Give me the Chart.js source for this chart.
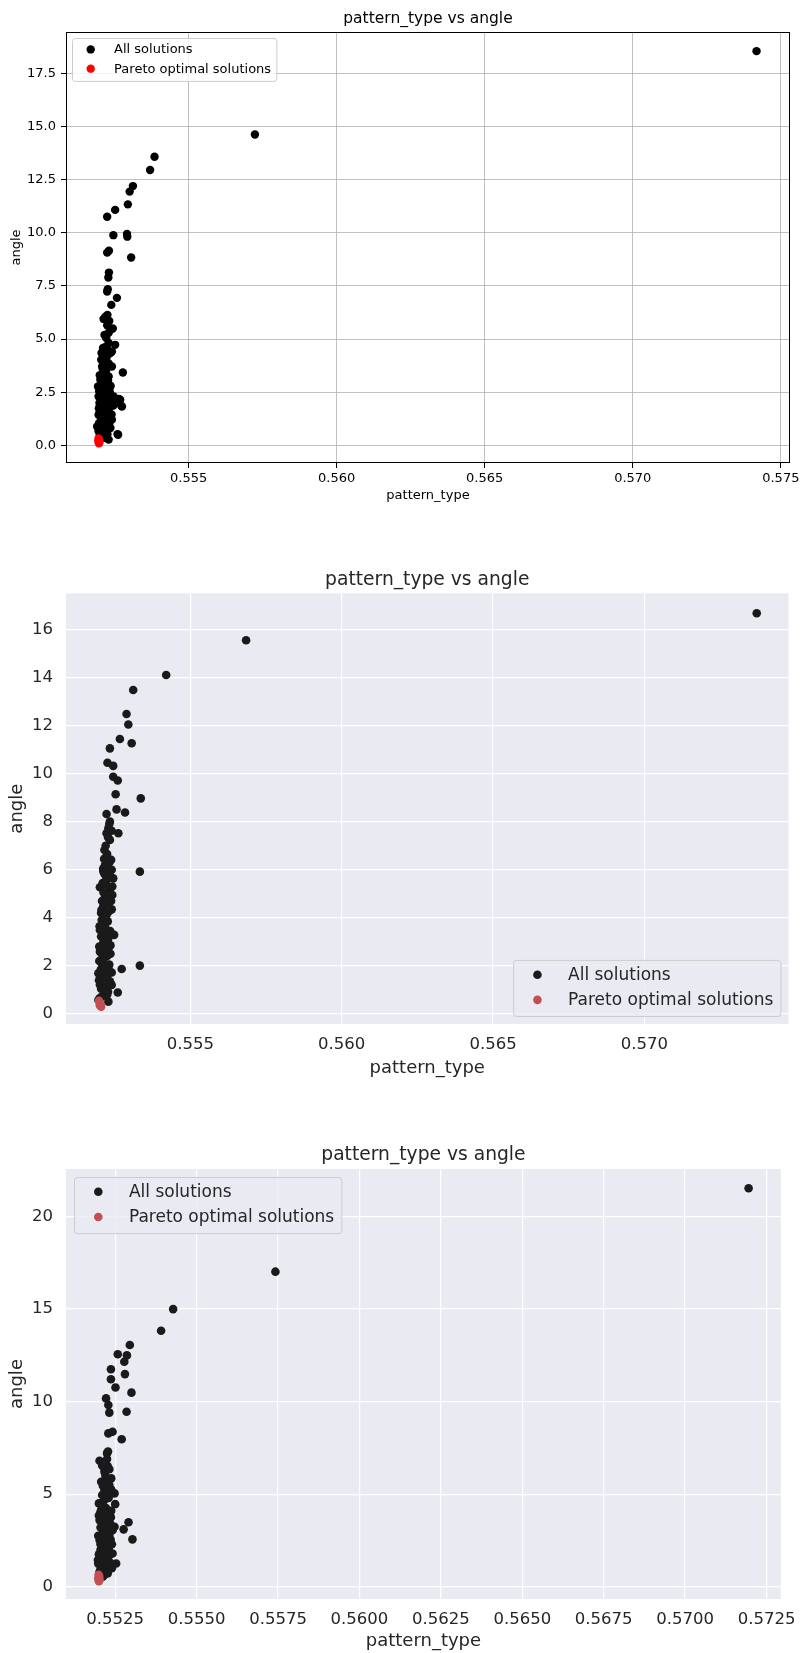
<!DOCTYPE html>
<html><head><meta charset="utf-8">
<script src="https://cdn.jsdelivr.net/npm/chart.js@4.4.1/dist/chart.umd.min.js"></script>
<style>
html,body{margin:0;padding:0;background:#fff;}
#wrap{position:relative;width:807px;height:1653px;overflow:hidden;}
canvas{position:absolute;left:0;}
</style></head><body>
<div id="wrap">
<canvas id="c1" width="807" height="520" style="top:0px;width:807px;height:520px"></canvas>
<canvas id="c2" width="807" height="580" style="top:520px;width:807px;height:580px"></canvas>
<canvas id="c3" width="807" height="553" style="top:1100px;width:807px;height:553px"></canvas>
</div>
<script>
// ---------- DATA ----------
const chartTitle = 'pattern_type vs angle';
const xAxisLabel = 'pattern_type';
const yAxisLabel = 'angle';
const seriesNames = ['All solutions', 'Pareto optimal solutions'];

const panel1All = [
[0.57418,18.55],[0.55724,14.63],[0.55385,13.58],[0.55370,12.96],[0.55312,12.20],[0.55301,11.94],[0.55295,11.34],[0.55252,11.08],[0.55225,10.76],[0.55246,9.89],[0.55292,9.95],[0.55293,9.82],[0.55306,8.84],[0.55225,9.07],[0.55231,9.16],[0.55231,8.13],[0.55229,7.90],[0.55227,7.35],[0.55225,7.24],[0.55258,6.94],[0.55239,6.61],[0.55226,6.14],[0.55213,5.95],[0.55219,6.05],[0.55244,5.50],[0.55236,5.44],[0.55216,5.19],[0.55252,4.73],[0.55241,4.42],[0.55211,4.58],[0.55224,4.50],[0.55211,4.18],[0.55224,3.71],[0.55213,3.40],[0.55278,3.43],[0.55208,3.09],[0.55236,2.81],[0.55202,2.46],[0.55265,2.18],[0.55272,1.87],[0.55246,1.87],[0.55202,1.87],[0.55196,1.44],[0.55236,0.82],[0.55260,0.53],[0.55219,0.35],
[0.55224,4.65],[0.55213,4.50],[0.55219,4.18],[0.55236,4.34],[0.55208,3.71],[0.55219,3.40],[0.55202,3.09],[0.55219,2.93],[0.55236,2.77],[0.55208,2.62],[0.55196,2.30],[0.55224,2.23],[0.55269,2.15],[0.55275,1.83],[0.55253,1.99],[0.55208,1.83],[0.55230,1.52],[0.55202,1.37],[0.55241,1.21],[0.55219,0.97],[0.55191,0.89],[0.55196,0.66],[0.55262,0.50],[0.55213,0.42],[0.55230,0.27],[0.55199,1.99],[0.55194,2.77],[0.55205,4.03],[0.55241,3.71],[0.55230,3.24],[0.55247,2.30],[0.55213,1.68],[0.55224,0.66],[0.55215,1.10],[0.55205,0.55],[0.55200,1.60],[0.55210,2.10],[0.55222,1.25],[0.55208,0.75],
[0.55200,0.45],[0.55212,0.58],[0.55226,0.52],[0.55204,0.80],[0.55218,0.85],[0.55232,1.00],[0.55198,1.05],[0.55210,1.20],[0.55226,1.38],[0.55240,1.45],[0.55205,1.52],[0.55218,1.60],[0.55232,1.75],[0.55197,1.75],[0.55215,1.92],[0.55228,2.00],[0.55242,2.05],[0.55205,2.22],[0.55220,2.40],[0.55234,2.50],[0.55198,2.55],[0.55212,2.75],[0.55226,2.68],[0.55206,2.90],[0.55228,3.05],[0.55214,3.20],[0.55200,3.30],[0.55222,3.55],[0.55210,3.60],[0.55230,3.85],[0.55214,3.90],[0.55222,4.10],[0.55206,4.35],[0.55230,4.30],[0.55218,4.62],[0.55230,4.82],[0.55222,5.05],[0.55230,5.30],[0.55225,5.65],[0.55232,5.85]
];
const panel1Pareto = [[0.55196,0.33],[0.55198,0.26],[0.55195,0.20],[0.55199,0.14],[0.55197,0.10]];

const panel2All = [
[0.57371,16.67],[0.55684,15.55],[0.55420,14.10],[0.55311,13.48],[0.55289,12.48],[0.55295,12.04],[0.55267,11.44],[0.55306,11.26],[0.55234,11.05],[0.55226,10.45],[0.55245,10.32],[0.55245,9.87],[0.55260,9.71],[0.55253,9.14],[0.55336,8.97],[0.55256,8.51],[0.55284,8.38],[0.55223,8.32],[0.55234,8.00],[0.55229,7.72],[0.55262,7.52],[0.55223,7.52],[0.55234,7.24],[0.55216,6.82],[0.55223,6.55],[0.55238,6.41],[0.55218,6.20],[0.55229,5.99],[0.55333,5.92],[0.55245,5.64],[0.55223,5.57],[0.55201,5.27],[0.55234,5.16],[0.55218,4.88],[0.55229,4.60],[0.55212,4.47],[0.55223,4.12],[0.55207,3.91],[0.55218,3.63],[0.55201,3.49],[0.55248,3.29],[0.55229,3.22],[0.55212,2.94],[0.55229,2.73],[0.55201,2.59],[0.55223,2.39],[0.55333,2.01],[0.55273,1.87],[0.55207,2.11],[0.55229,1.90],[0.55196,1.69],[0.55218,1.55],[0.55234,1.36],[0.55201,1.21],[0.55260,0.89],[0.55223,1.00],[0.55207,0.72],[0.55229,0.51],[0.55196,0.58],
[0.55212,6.05],[0.55240,4.35],[0.55215,3.05],[0.55236,2.50],[0.55210,1.80],[0.55225,0.80],[0.55240,1.20],[0.55215,5.85],[0.55242,4.95],[0.55205,4.20],
[0.55200,0.65],[0.55214,0.78],[0.55228,0.92],[0.55205,1.05],[0.55219,1.15],[0.55236,1.28],[0.55198,1.40],[0.55212,1.48],[0.55226,1.62],[0.55240,1.72],[0.55204,1.85],[0.55218,1.98],[0.55232,2.05],[0.55199,2.20],[0.55213,2.30],[0.55228,2.45],[0.55206,2.52],[0.55220,2.65],[0.55236,2.85],[0.55199,2.80],[0.55214,3.00],[0.55228,3.10],[0.55205,3.22],[0.55219,3.35],[0.55235,3.45],[0.55200,3.65],[0.55212,3.75],[0.55227,3.85],[0.55218,4.00],[0.55206,4.32],[0.55230,4.25],[0.55215,4.55],[0.55238,4.70],[0.55208,4.70],[0.55222,4.82],[0.55213,5.05],[0.55228,5.30],[0.55210,5.45],[0.55234,5.78],[0.55220,5.75],[0.55212,5.95],[0.55225,6.15],[0.55232,6.30],[0.55215,6.45],[0.55225,6.65],[0.55220,7.00],[0.55228,7.35],[0.55240,7.62],[0.55232,7.90],[0.55240,6.00],[0.55242,5.30]
];
const panel2Pareto = [[0.55198,0.55],[0.55200,0.45],[0.55203,0.38],[0.55205,0.30],[0.55201,0.35]];

const panel3All = [
[0.57195,21.51],[0.55742,17.01],[0.55428,14.99],[0.55391,13.82],[0.55295,13.05],[0.55258,12.55],[0.55286,12.49],[0.55278,12.15],[0.55237,11.74],[0.55237,11.20],[0.55280,11.48],[0.55251,10.76],[0.55300,10.48],[0.55222,10.17],[0.55229,9.81],[0.55232,9.40],[0.55285,9.45],[0.55229,8.28],[0.55242,8.37],[0.55270,7.96],[0.55225,7.20],[0.55202,6.80],[0.55227,6.52],[0.55217,6.21],[0.55238,5.85],[0.55207,5.67],[0.55232,5.49],[0.55217,5.22],[0.55248,5.04],[0.55222,4.77],[0.55250,4.46],[0.55207,4.14],[0.55227,3.96],[0.55202,3.60],[0.55222,3.51],[0.55291,3.48],[0.55248,3.24],[0.55276,3.10],[0.55212,3.06],[0.55232,2.79],[0.55303,2.56],[0.55202,2.52],[0.55222,2.16],[0.55207,1.80],[0.55232,1.71],[0.55197,1.44],[0.55253,1.26],[0.55217,1.08],[0.55202,0.81],[0.55227,0.72],[0.55212,0.54],
[0.55228,7.30],[0.55212,4.40],[0.55237,3.75],[0.55215,2.95],[0.55240,2.30],[0.55205,2.00],[0.55225,1.40],[0.55240,1.00],[0.55210,6.55],[0.55225,4.95],
[0.55200,0.45],[0.55215,0.62],[0.55228,0.85],[0.55205,0.95],[0.55220,1.20],[0.55235,1.30],[0.55198,1.25],[0.55210,1.55],[0.55228,1.60],[0.55242,1.80],[0.55200,1.75],[0.55215,1.95],[0.55230,2.05],[0.55205,2.30],[0.55220,2.45],[0.55236,2.55],[0.55198,2.75],[0.55212,2.85],[0.55228,2.95],[0.55242,3.05],[0.55205,3.20],[0.55220,3.30],[0.55235,3.40],[0.55200,3.85],[0.55214,3.75],[0.55230,3.65],[0.55205,4.05],[0.55222,4.25],[0.55238,4.10],[0.55200,4.50],[0.55215,4.65],[0.55230,4.80],[0.55210,4.95],[0.55222,5.15],[0.55238,5.25],[0.55212,5.45],[0.55228,5.70],[0.55220,6.00],[0.55232,6.35],[0.55215,6.45],[0.55225,6.90]
];
const panel3Pareto = [[0.55199,0.65],[0.55201,0.55],[0.55198,0.45],[0.55202,0.38],[0.55200,0.30]];

const panel1XTicks = [0.555, 0.560, 0.565, 0.570, 0.575];
const panel1XTickLabels = ['0.555', '0.560', '0.565', '0.570', '0.575'];
const panel1YTicks = [0, 2.5, 5, 7.5, 10, 12.5, 15, 17.5];
const panel1YTickLabels = ['0.0', '2.5', '5.0', '7.5', '10.0', '12.5', '15.0', '17.5'];

const panel2XTicks = [0.555, 0.560, 0.565, 0.570];
const panel2XTickLabels = ['0.555', '0.560', '0.565', '0.570'];
const panel2YTicks = [0, 2, 4, 6, 8, 10, 12, 14, 16];
const panel2YTickLabels = ['0', '2', '4', '6', '8', '10', '12', '14', '16'];

const panel3XTicks = [0.5525, 0.5550, 0.5575, 0.5600, 0.5625, 0.5650, 0.5675, 0.5700, 0.5725];
const panel3XTickLabels = ['0.5525', '0.5550', '0.5575', '0.5600', '0.5625', '0.5650', '0.5675', '0.5700', '0.5725'];
const panel3YTicks = [0, 5, 10, 15, 20];
const panel3YTickLabels = ['0', '5', '10', '15', '20'];

// ---------- RENDERING ----------
const FONT = '"DejaVu Sans", "Liberation Sans", sans-serif';

function toPoints(arr) { return arr.map(p => ({ x: p[0], y: p[1] })); }

function roundRectPath(ctx, x, y, w, h, r) {
  ctx.beginPath();
  ctx.moveTo(x + r, y);
  ctx.lineTo(x + w - r, y); ctx.arcTo(x + w, y, x + w, y + r, r);
  ctx.lineTo(x + w, y + h - r); ctx.arcTo(x + w, y + h, x + w - r, y + h, r);
  ctx.lineTo(x + r, y + h); ctx.arcTo(x, y + h, x, y + h - r, r);
  ctx.lineTo(x, y + r); ctx.arcTo(x, y, x + r, y, r);
  ctx.closePath();
}

const panelDecor = {
  id: 'panelDecor',
  beforeDraw(chart, args, o) {
    if (!o.bg) return;
    const a = chart.chartArea, ctx = chart.ctx;
    ctx.save();
    ctx.fillStyle = o.bg;
    ctx.fillRect(a.left, a.top, a.right - a.left, a.bottom - a.top);
    ctx.restore();
  },
  afterDraw(chart, args, o) {
    const a = chart.chartArea, ctx = chart.ctx;
    ctx.save();
    if (o.frame) {
      ctx.strokeStyle = o.frame; ctx.lineWidth = 1;
      ctx.strokeRect(Math.round(a.left) + 0.5, Math.round(a.top) + 0.5,
                     Math.round(a.right - a.left) - 1, Math.round(a.bottom - a.top) - 1);
    }
    const L = o.legend;
    if (L) {
      const f = L.fontSize;
      ctx.font = f + 'px ' + FONT;
      const ds = chart.data.datasets;
      let tw = 0;
      ds.forEach(d => { tw = Math.max(tw, ctx.measureText(d.label).width); });
      const w = 3.2 * f + tw + 0.45 * f;
      const h = 3.3 * f;
      let x0, y0;
      if (L.corner === 'upper left') { x0 = a.left + L.inset; y0 = a.top + L.inset; }
      else { x0 = a.right - L.inset - w; y0 = a.bottom - L.inset - h; }
      roundRectPath(ctx, x0, y0, w, h, 3);
      ctx.fillStyle = L.face; ctx.fill();
      ctx.strokeStyle = L.edge; ctx.lineWidth = 1; ctx.stroke();
      ds.forEach((d, i) => {
        const cy = y0 + 0.84 * f + i * 1.48 * f;
        ctx.beginPath();
        ctx.arc(x0 + 1.4 * f, cy, L.markerR, 0, Math.PI * 2);
        ctx.fillStyle = d.backgroundColor; ctx.fill();
        ctx.fillStyle = L.textColor;
        ctx.textBaseline = 'middle'; ctx.textAlign = 'left';
        ctx.fillText(d.label, x0 + 3.2 * f, cy + 0.5);
      });
    }
    ctx.restore();
  }
};

function buildChart(id, s) {
  return new Chart(document.getElementById(id), {
    type: 'scatter',
    data: {
      datasets: [
        { label: seriesNames[0], data: toPoints(s.all), backgroundColor: s.allColor, borderWidth: 0,
          pointRadius: s.r, pointHoverRadius: s.r, order: 2 },
        { label: seriesNames[1], data: toPoints(s.pareto), backgroundColor: s.paretoColor, borderWidth: 0,
          pointRadius: s.r, pointHoverRadius: s.r, order: 1 }
      ]
    },
    options: {
      responsive: false, animation: false, devicePixelRatio: 1,
      layout: { autoPadding: false, padding: { left: 0, top: 0, right: s.padRight, bottom: 0 } },
      events: [],
      plugins: {
        legend: { display: false },
        tooltip: { enabled: false },
        title: {
          display: true, text: chartTitle, fullSize: false, color: s.textColor,
          font: { family: FONT, size: s.titleSize, weight: 'normal', lineHeight: 1.2 },
          padding: { top: s.titlePadTop, bottom: s.titlePadBottom }
        },
        panelDecor: { bg: s.bg, frame: s.frame, legend: s.legend }
      },
      scales: {
        x: {
          type: 'linear', position: 'bottom', bounds: 'data', min: s.xMin, max: s.xMax,
          afterBuildTicks: sc => { sc.ticks = s.xTicks.map(v => ({ value: v })); },
          afterFit: sc => { sc.height = s.xAxisHeight; },
          ticks: { autoSkip: false, maxRotation: 0, minRotation: 0, padding: s.xTickPad, color: s.textColor,
                   font: { family: FONT, size: s.tickSize, lineHeight: 1.2 },
                   callback: (v, i) => s.xTickLabels[i] },
          grid: { color: s.gridColor, lineWidth: s.gridWidth, drawTicks: s.drawTicks, tickLength: s.tickLen,
                  tickColor: '#000000', tickWidth: 1 },
          border: { display: false },
          title: { display: true, text: xAxisLabel, color: s.textColor,
                   font: { family: FONT, size: s.labelSize, lineHeight: 1.2 },
                   padding: { top: 0, bottom: s.xTitlePadBottom } }
        },
        y: {
          type: 'linear', position: 'left', bounds: 'data', min: s.yMin, max: s.yMax,
          afterBuildTicks: sc => { sc.ticks = s.yTicks.map(v => ({ value: v })); },
          afterFit: sc => { sc.width = s.yAxisWidth; },
          ticks: { autoSkip: false, padding: s.yTickPad, color: s.textColor,
                   font: { family: FONT, size: s.tickSize, lineHeight: 1.2 },
                   callback: (v, i) => s.yTickLabels[i] },
          grid: { color: s.gridColor, lineWidth: s.gridWidth, drawTicks: s.drawTicks, tickLength: s.tickLen,
                  tickColor: '#000000', tickWidth: 1 },
          border: { display: false },
          title: { display: true, text: yAxisLabel, color: s.textColor,
                   font: { family: FONT, size: s.labelSize, lineHeight: 1.2 },
                   padding: { top: s.yTitlePadTop, bottom: 0 } }
        }
      }
    },
    plugins: [panelDecor]
  });
}

// Panel 1: classic matplotlib style
buildChart('c1', {
  all: panel1All, pareto: panel1Pareto, allColor: '#000000', paretoColor: '#ff0000', r: 4.2,
  xMin: 0.55086, xMax: 0.57531, yMin: -0.83, yMax: 19.45,
  xTicks: panel1XTicks, xTickLabels: panel1XTickLabels, yTicks: panel1YTicks, yTickLabels: panel1YTickLabels,
  padRight: 17, titleSize: 15.5, titlePadTop: 9.5, titlePadBottom: 3.9,
  tickSize: 13, labelSize: 13, textColor: '#000000',
  xAxisHeight: 57, yAxisWidth: 66, xTickPad: 2.5, yTickPad: 5, drawTicks: true, tickLen: 5,
  xTitlePadBottom: 16.5, yTitlePadTop: 8.7,
  gridColor: '#b0b0b0', gridWidth: 0.8, bg: null, frame: '#000000',
  legend: { corner: 'upper left', inset: 6.5, fontSize: 13, markerR: 4.2,
            face: 'rgba(255,255,255,0.8)', edge: '#cccccc', textColor: '#000000' }
});

// Panel 2: seaborn darkgrid style
buildChart('c2', {
  all: panel2All, pareto: panel2Pareto, allColor: '#1a1a1a', paretoColor: '#c44e52', r: 4.3,
  xMin: 0.55089, xMax: 0.57476, yMin: -0.42, yMax: 17.5,
  xTicks: panel2XTicks, xTickLabels: panel2XTickLabels, yTicks: panel2YTicks, yTickLabels: panel2YTickLabels,
  padRight: 18.5, titleSize: 18.7, titlePadTop: 48.8, titlePadBottom: 2.1,
  tickSize: 16.5, labelSize: 18, textColor: '#262626',
  xAxisHeight: 76, yAxisWidth: 66, xTickPad: 11.1, yTickPad: 13, drawTicks: false, tickLen: 0,
  xTitlePadBottom: 21.2, yTitlePadTop: 6.2,
  gridColor: '#ffffff', gridWidth: 1.2, bg: '#eaeaf2', frame: null,
  legend: { corner: 'lower right', inset: 7.5, fontSize: 17, markerR: 4.3,
            face: 'rgba(234,234,242,0.8)', edge: '#cccccc', textColor: '#262626' }
});

// Panel 3: seaborn darkgrid style
buildChart('c3', {
  all: panel3All, pareto: panel3Pareto, allColor: '#1a1a1a', paretoColor: '#c44e52', r: 4.3,
  xMin: 0.55099, xMax: 0.57294, yMin: -0.66, yMax: 22.55,
  xTicks: panel3XTicks, xTickLabels: panel3XTickLabels, yTicks: panel3YTicks, yTickLabels: panel3YTickLabels,
  padRight: 18, titleSize: 18.7, titlePadTop: 43.8, titlePadBottom: 2.8,
  tickSize: 16.5, labelSize: 18, textColor: '#262626',
  xAxisHeight: 54, yAxisWidth: 66, xTickPad: 11.1, yTickPad: 13, drawTicks: false, tickLen: 0,
  xTitlePadBottom: 0.5, yTitlePadTop: 6.2,
  gridColor: '#ffffff', gridWidth: 1.2, bg: '#eaeaf2', frame: null,
  legend: { corner: 'upper left', inset: 8.5, fontSize: 17, markerR: 4.3,
            face: 'rgba(234,234,242,0.8)', edge: '#cccccc', textColor: '#262626' }
});
</script>
</body></html>
